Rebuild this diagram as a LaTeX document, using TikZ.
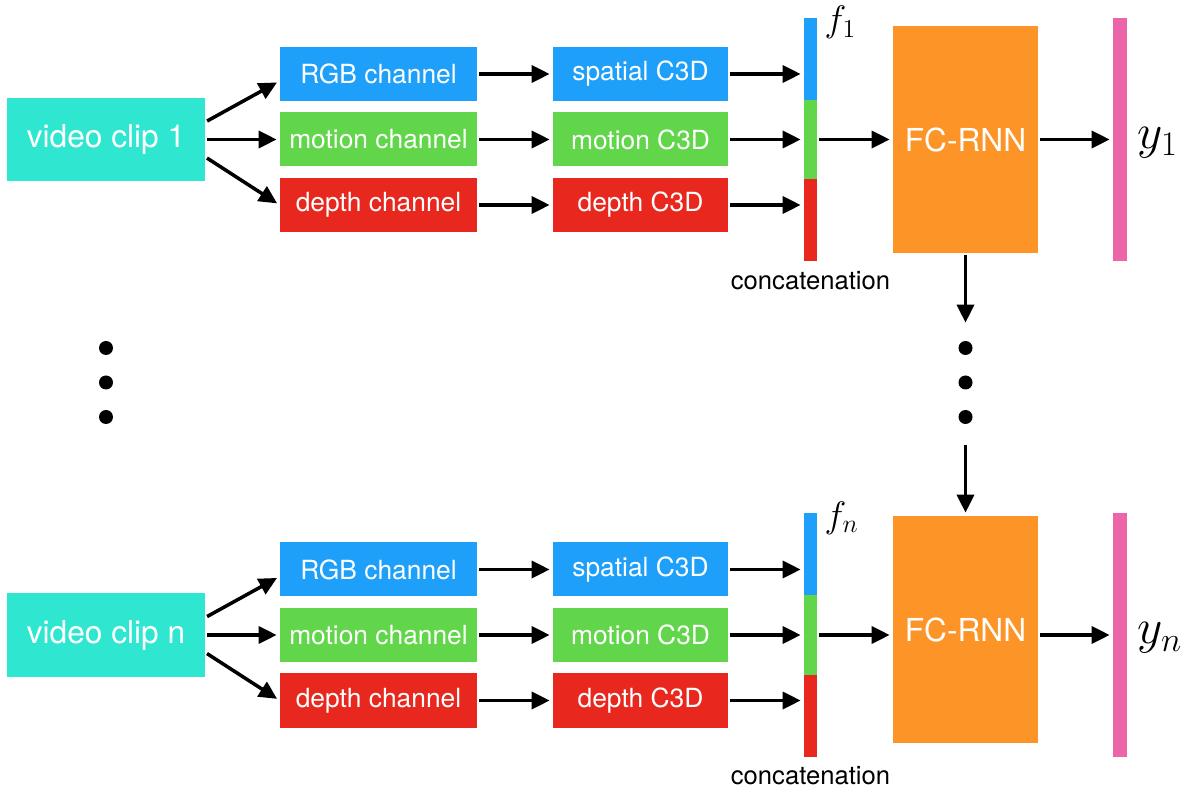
\RequirePackage{fix-cm}
\documentclass[tikz,border=0pt]{standalone}
\usepackage{fontspec}
\setsansfont{TeX Gyre Heros}
\usetikzlibrary{arrows.meta}
\usetikzlibrary{calc}
\definecolor{clipcol}{RGB}{47,231,208}
\definecolor{rgbcol}{RGB}{30,160,250}
\definecolor{motioncol}{RGB}{98,214,74}
\definecolor{depthcol}{RGB}{232,40,30}
\definecolor{rnncol}{RGB}{252,148,40}
\definecolor{outcol}{RGB}{238,100,168}
\tikzstyle{block} = [rectangle, minimum width=3.94cm, minimum height=1.08cm, text centered, inner sep=0pt, text=white, font=\sffamily\fontsize{15}{18}\selectfont]
\tikzstyle{bigblock} = [block, font=\sffamily\fontsize{18}{22}\selectfont]
\tikzstyle{bar} = [rectangle, inner sep=0pt, minimum width=0.26cm, minimum height=1.62cm]
\tikzstyle{dot} = [circle, fill=black, inner sep=0pt, minimum size=0.28cm]
\tikzstyle{arrow} = [->, >={Triangle[length=0.36cm,width=0.34cm]}, line width=2pt, shorten <=0.04cm, shorten >=0.06cm]
\newcommand{\fanshift}{0.35cm}
\newcommand{\labshift}{0.14cm}

\begin{document}
\begin{tikzpicture}[node distance=1.31cm]
  \useasboundingbox (0,0) rectangle (23.78,-15.8);

  % Clip 1
  \node [bigblock, fill=clipcol, minimum width=3.96cm, minimum height=1.66cm] (clip1) at (2.12,-2.79) {video clip 1};

  \node [block, fill=motioncol, right of=clip1, node distance=5.45cm] (motion1) {motion channel};
  \node [block, fill=rgbcol, above of=motion1] (rgb1) {RGB channel};
  \node [block, fill=depthcol, below of=motion1] (depth1) {depth channel};

  \node [block, fill=motioncol, right of=motion1, node distance=5.24cm, minimum width=3.5cm] (mc1) {motion C3D};
  \node [block, fill=rgbcol, above of=mc1, minimum width=3.5cm] (sp1) {spatial C3D};
  \node [block, fill=depthcol, below of=mc1, minimum width=3.5cm] (dc1) {depth C3D};

  %  concatenation bar
  \node [bar, fill=motioncol, right of=mc1, node distance=3.4cm, minimum height=1.58cm] (barg1) {};
  \node [bar, fill=rgbcol, above of=barg1, node distance=1.61cm, minimum height=1.64cm] (barb1) {};
  \node [bar, fill=depthcol, below of=barg1, node distance=1.61cm, minimum height=1.64cm] (barr1) {};
  \node [anchor=north west, inner sep=0pt, font=\fontsize{21}{24}\selectfont] (f1) at ([xshift=\labshift, yshift=0.24cm]barb1.north east) {$f_1$};
  \node [anchor=base, font=\sffamily\fontsize{14.6}{17}\selectfont] (cat1) at ([yshift=-0.56cm]barr1.south) {concatenation};

  % FC-RNN
  \node [bigblock, fill=rnncol, right of=barg1, node distance=3.1cm, minimum width=2.9cm, minimum height=4.54cm] (fc1) {FC-RNN};
  \node [bar, fill=outcol, right of=barg1, node distance=6.19cm, minimum width=0.28cm, minimum height=4.86cm] (ybar1) {};
  \node [anchor=base west, inner sep=0pt, font=\fontsize{28}{32}\selectfont] (y1) at ([xshift=0.2cm, yshift=-0.18cm]ybar1.east) {$y_1$};

  % arrows
  \draw [arrow] ([yshift=\fanshift]clip1.east) -- ([yshift=-\labshift]rgb1.west);
  \draw [arrow] (clip1) -- (motion1);
  \draw [arrow] ([yshift=-\fanshift]clip1.east) -- (depth1.west);
  \draw [arrow] (rgb1) -- (sp1);
  \draw [arrow] (motion1) -- (mc1);
  \draw [arrow] (depth1) -- (dc1);
  \draw [arrow] (sp1) -- (sp1 -| barb1.west);
  \draw [arrow] (mc1) -- (mc1 -| barg1.west);
  \draw [arrow] (dc1) -- (dc1 -| barr1.west);
  \draw [arrow] (barg1) -- (barg1 -| fc1.west);
  \draw [arrow] (fc1) -- (ybar1);



  % dots
  \node [dot, below of=clip1, node distance=4.17cm] (ldot1) {};
  \node [dot, below of=ldot1, node distance=0.69cm] (ldot2) {};
  \node [dot, below of=ldot2, node distance=0.69cm] (ldot3) {};

  \node [dot, below of=fc1, node distance=4.17cm] (rdot1) {};
  \node [dot, below of=rdot1, node distance=0.69cm] (rdot2) {};
  \node [dot, below of=rdot2, node distance=0.69cm] (rdot3) {};



  % Clip n
  \node [bigblock, fill=clipcol, minimum width=3.96cm, minimum height=1.66cm, below of=clip1, node distance=9.91cm] (clipn) {video clip n};

  \node [block, fill=motioncol, right of=clipn, node distance=5.45cm] (motionn) {motion channel};
  \node [block, fill=rgbcol, above of=motionn] (rgbn) {RGB channel};
  \node [block, fill=depthcol, below of=motionn] (depthn) {depth channel};

  \node [block, fill=motioncol, right of=motionn, node distance=5.24cm, minimum width=3.5cm] (mcn) {motion C3D};
  \node [block, fill=rgbcol, above of=mcn, minimum width=3.5cm] (spn) {spatial C3D};
  \node [block, fill=depthcol, below of=mcn, minimum width=3.5cm] (dcn) {depth C3D};

  %  concatenation bar
  \node [bar, fill=motioncol, right of=mcn, node distance=3.4cm, minimum height=1.58cm] (bargn) {};
  \node [bar, fill=rgbcol, above of=bargn, node distance=1.61cm, minimum height=1.64cm] (barbn) {};
  \node [bar, fill=depthcol, below of=bargn, node distance=1.61cm, minimum height=1.64cm] (barrn) {};
  \node [anchor=north west, inner sep=0pt, font=\fontsize{21}{24}\selectfont] (fn) at ([xshift=\labshift, yshift=0.24cm]barbn.north east) {$f_n$};
  \node [anchor=base, font=\sffamily\fontsize{14.6}{17}\selectfont] (catn) at ([yshift=-0.56cm]barrn.south) {concatenation};

  % FC-RNN
  \node [bigblock, fill=rnncol, right of=bargn, node distance=3.1cm, yshift=0.11cm, minimum width=2.9cm, minimum height=4.54cm] (fcn) {FC-RNN};
  \node [bar, fill=outcol, right of=bargn, node distance=6.19cm, minimum width=0.28cm, minimum height=4.88cm] (ybarn) {};
  \node [anchor=base west, inner sep=0pt, font=\fontsize{28}{32}\selectfont] (yn) at ([xshift=0.2cm, yshift=-0.18cm]ybarn.east) {$y_n$};

  % arrows
  \draw [arrow] ([yshift=\fanshift]clipn.east) -- ([yshift=-\labshift]rgbn.west);
  \draw [arrow] (clipn) -- (motionn);
  \draw [arrow] ([yshift=-\fanshift]clipn.east) -- (depthn.west);
  \draw [arrow] (rgbn) -- (spn);
  \draw [arrow] (motionn) -- (mcn);
  \draw [arrow] (depthn) -- (dcn);
  \draw [arrow] (spn) -- (spn -| barbn.west);
  \draw [arrow] (mcn) -- (mcn -| bargn.west);
  \draw [arrow] (dcn) -- (dcn -| barrn.west);
  \draw [arrow] (bargn) -- (bargn -| fcn.west);
  \draw [arrow] (bargn -| fcn.east) -- (bargn -| ybarn.west);



  % recurrence
  \draw [arrow, shorten >=0.36cm] (fc1) -- (rdot1);
  \draw [arrow, shorten <=0.42cm] (rdot3) -- (fcn);

\end{tikzpicture}
\end{document}
